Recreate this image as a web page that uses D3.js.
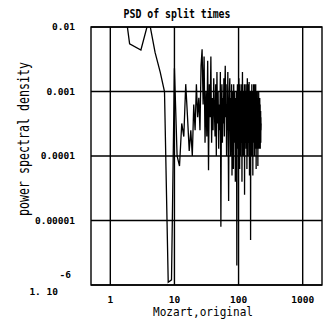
<!DOCTYPE html>
<html>
<head>
<meta charset="utf-8">
<script src="https://cdn.jsdelivr.net/npm/d3@7"></script>
<style>
  body { margin: 0; background: #fff; }
  svg { display: block; }
  text { font-family: "DejaVu Sans Mono", monospace; fill: #000; }
</style>
</head>
<body>
<svg id="chart"></svg>
<script>
// chart texts
const title = "PSD of split times";
const xTitle = "Mozart,original";
const yTitle = "power spectral density";

// axis ticks
const xTicks = [1, 10, 100, 1000];
const xTickLabels = ["1", "10", "100", "1000"];
const yTicks = [1e-2, 1e-3, 1e-4, 1e-5, 1e-6];
const yTickLabels = ["0.01", "0.001", "0.0001", "0.00001"];
const yBottomLabel = ["1. 10", "-6"];

// PSD values, harmonic 1, 2, 3, ... (one per integer frequency)
const firstFreq = 1;
const psd = [
  1.0e+0,                                                                           // 1 (off scale)
  5.5e-3, 4.4e-3, 1.3e-2, 4.0e-3, 2.0e-3, 1.0e-3, 1.1e-6, 1.2e-6, 2.3e-3, 1.0e-4,   // 2-11
  7.0e-5, 3.2e-4, 2.0e-4, 1.3e-3, 4.0e-4, 1.2e-4, 2.5e-4, 1.0e-4, 6.3e-4, 2.5e-4,   // 12-21
  1.3e-3, 4.0e-4, 8.0e-4, 2.5e-4, 2.5e-3, 4.5e-3, 6.3e-4, 3.5e-3, 1.6e-4, 1.0e-3,   // 22-31
  2.0e-4, 3.0e-3, 6.0e-5, 1.3e-3, 4.0e-4, 3.5e-3, 1.6e-4, 7.9e-4, 2.5e-4, 1.6e-3,   // 32-41
  5.0e-4, 2.0e-4, 1.3e-3, 1.0e-4, 2.0e-3, 3.2e-4, 1.0e-3, 1.3e-4, 6.3e-4, 2.5e-4,   // 42-51
  2.0e-3, 8.0e-6, 5.0e-4, 1.3e-3, 1.6e-4, 7.9e-4, 3.2e-4, 1.6e-3, 2.0e-4, 1.0e-3,   // 52-61
  2.5e-3, 4.0e-4, 1.3e-3, 1.0e-4, 6.3e-4, 2.5e-4, 2.0e-3, 1.6e-4, 2.0e-5, 5.0e-4,   // 62-71
  1.0e-3, 1.6e-3, 3.2e-4, 1.0e-4, 7.9e-4, 2.0e-4, 1.3e-3, 5.0e-5, 4.0e-4, 1.0e-3,   // 72-81
  2.5e-4, 6.3e-5, 1.3e-3, 3.2e-4, 1.0e-3, 1.6e-4, 5.0e-4, 4.0e-5, 7.9e-4, 2.0e-4,   // 82-91
  1.0e-3, 3.2e-4, 2.0e-6, 6.3e-4, 1.3e-3, 2.5e-4, 1.0e-3, 1.3e-4, 5.0e-4, 1.6e-3,   // 92-101
  2.0e-4, 7.9e-4, 6.3e-5, 1.3e-3, 3.2e-4, 1.0e-4, 1.0e-3, 2.5e-4, 6.3e-4, 1.6e-4,   // 102-111
  1.3e-3, 4.0e-5, 5.0e-4, 2.0e-3, 2.5e-4, 7.9e-4, 1.0e-4, 1.0e-3, 3.2e-4, 6.3e-4,   // 112-121
  2.0e-4, 1.3e-3, 2.5e-5, 5.0e-4, 1.0e-3, 1.6e-4, 7.9e-4, 3.2e-4, 1.3e-3, 1.3e-4,   // 122-131
  6.3e-4, 2.5e-4, 1.0e-3, 6.3e-5, 5.0e-4, 1.6e-3, 2.0e-4, 7.9e-4, 1.0e-4, 1.0e-3,   // 132-141
  3.2e-4, 1.3e-3, 1.6e-4, 6.3e-4, 1.4e-3, 2.5e-4, 5.0e-5, 7.9e-4, 4.0e-4, 1.0e-3,   // 142-151
  1.3e-4, 6.3e-4, 5.0e-6, 4.0e-4, 1.0e-3, 2.0e-4, 7.9e-4, 1.0e-4, 5.0e-4, 1.3e-3,   // 152-161
  2.5e-4, 6.3e-4, 1.3e-4, 1.0e-3, 3.2e-4, 5.0e-5, 7.9e-4, 2.0e-4, 1.0e-3, 4.0e-4,   // 162-171
  1.3e-3, 1.6e-4, 6.3e-4, 2.5e-4, 1.3e-3, 1.0e-4, 5.0e-4, 7.9e-4, 2.0e-4, 1.0e-3,   // 172-181
  3.2e-4, 1.3e-4, 6.3e-4, 1.3e-3, 2.5e-4, 5.0e-4, 6.3e-5, 7.9e-4, 2.0e-4, 1.0e-3,   // 182-191
  4.0e-4, 1.6e-4, 7.9e-4, 2.5e-4, 1.0e-3, 1.3e-4, 5.0e-4, 6.3e-4, 7.0e-5, 3.2e-4,   // 192-201
  7.9e-4, 2.0e-4, 6.3e-4, 1.6e-4, 1.0e-3, 3.2e-4, 5.0e-4, 1.3e-4, 6.3e-4, 2.5e-4,   // 202-211
  5.0e-4, 1.6e-4, 7.9e-4, 3.2e-4, 2.0e-4, 6.3e-4, 1.3e-4, 4.0e-4, 2.5e-4, 5.0e-4,   // 212-221
  1.6e-4, 4.0e-4, 2.5e-4, 3.2e-4                                                    // 222-225
];

const width = 323;
const height = 329;
const plot = { left: 91, right: 322, top: 27, bottom: 285 };

const svg = d3.select('#chart')
  .attr('width', width)
  .attr('height', height);

const x = d3.scaleLog().domain([0.5, 2000]).range([plot.left, plot.right]);
const y = d3.scaleLog().domain([1e-6, 1e-2]).range([plot.bottom, plot.top]);

const data = psd.map((v, i) => ({ f: firstFreq + i, v }));

svg.append('clipPath').attr('id', 'clip')
  .append('rect')
  .attr('x', plot.left).attr('y', plot.top)
  .attr('width', plot.right - plot.left)
  .attr('height', plot.bottom - plot.top);

// grid
svg.selectAll('.gx')
  .data(xTicks)
  .enter()
  .append('line')
  .attr('x1', d => x(d)).attr('x2', d => x(d))
  .attr('y1', plot.top).attr('y2', plot.bottom)
  .attr('stroke', '#000')
  .attr('stroke-width', 1.4);

svg.selectAll('.gy')
  .data(yTicks)
  .enter()
  .append('line')
  .attr('x1', plot.left).attr('x2', plot.right)
  .attr('y1', d => y(d)).attr('y2', d => y(d))
  .attr('stroke', '#000')
  .attr('stroke-width', 1.4);

svg.append('rect')
  .attr('x', plot.left).attr('y', plot.top)
  .attr('width', plot.right - plot.left)
  .attr('height', plot.bottom - plot.top)
  .attr('fill', 'none')
  .attr('stroke', '#000')
  .attr('stroke-width', 1.4);

// trace
const line = d3.line()
  .x(d => x(d.f))
  .y(d => y(d.v));

svg.append('path')
  .datum(data)
  .attr('clip-path', 'url(#clip)')
  .attr('d', line)
  .attr('fill', 'none')
  .attr('stroke', '#000')
  .attr('stroke-width', 1.3)
  .attr('stroke-linejoin', 'miter');

// tick labels
svg.selectAll('.xl')
  .data(xTicks)
  .enter()
  .append('text')
  .attr('x', d => x(d))
  .attr('y', 303)
  .attr('text-anchor', 'middle')
  .style('font-size', '9.5px')
  .style('font-weight', 'bold')
  .text((d, i) => xTickLabels[i]);

svg.selectAll('.yl')
  .data(yTickLabels)
  .enter()
  .append('text')
  .attr('x', 75)
  .attr('y', (d, i) => y(yTicks[i]) + 3)
  .attr('text-anchor', 'end')
  .style('font-size', '9.5px')
  .style('font-weight', 'bold')
  .text(d => d);

svg.append('text')
  .attr('x', 58).attr('y', 295)
  .attr('text-anchor', 'end')
  .style('font-size', '9.5px')
  .style('font-weight', 'bold')
  .text(yBottomLabel[0]);

svg.append('text')
  .attr('x', 71).attr('y', 278)
  .attr('text-anchor', 'end')
  .style('font-size', '9.5px')
  .style('font-weight', 'bold')
  .text(yBottomLabel[1]);

// titles
svg.append('text')
  .attr('x', 177).attr('y', 18)
  .attr('text-anchor', 'middle')
  .attr('textLength', 107)
  .attr('lengthAdjust', 'spacingAndGlyphs')
  .style('font-size', '11.5px')
  .style('font-weight', 'bold')
  .text(title);

svg.append('text')
  .attr('x', 203).attr('y', 316)
  .attr('text-anchor', 'middle')
  .attr('textLength', 100)
  .attr('lengthAdjust', 'spacingAndGlyphs')
  .style('font-size', '12.5px')
  .text(xTitle);

svg.append('text')
  .attr('transform', 'translate(29,139) rotate(-90)')
  .attr('text-anchor', 'middle')
  .attr('textLength', 154)
  .attr('lengthAdjust', 'spacingAndGlyphs')
  .style('font-size', '16px')
  .text(yTitle);
</script>
</body>
</html>
